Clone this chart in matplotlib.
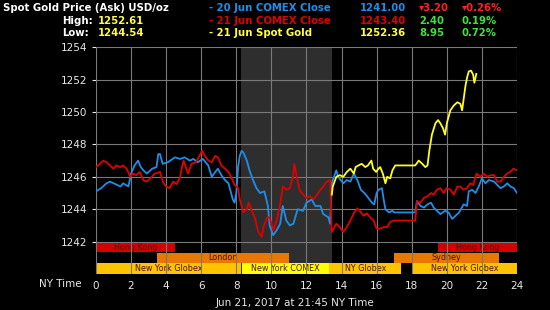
import matplotlib

matplotlib.use("Agg")
import matplotlib.pyplot as plt  # noqa: E402

# 20 Jun COMEX Close (blue)
blue_h = [0, 0.3, 0.6, 0.8, 1.2, 1.4, 1.55, 1.85, 2.0, 2.2, 2.4, 2.55, 2.7, 2.9, 3.2, 3.45,
          3.55, 3.65, 3.8, 4.1, 4.5, 4.8, 5.05, 5.35, 5.55, 5.8, 6.1, 6.4, 6.6, 6.8, 6.95,
          7.15, 7.35, 7.55, 7.7, 7.8, 7.9, 8.0, 8.1, 8.2, 8.3, 8.4, 8.6, 8.75, 8.95, 9.15,
          9.35, 9.6, 9.8, 9.9, 10.1, 10.3, 10.5, 10.65, 10.85, 11.05, 11.25, 11.5, 11.8,
          12.0, 12.3, 12.5, 12.8, 12.95, 13.25, 13.35, 13.45, 13.5, 13.7, 13.8, 14.1, 14.3,
          14.5, 14.7, 14.9, 15.1, 15.3, 15.45, 15.73, 15.86, 16.0, 16.1, 16.3, 16.4, 16.5,
          16.7, 16.9, 17.0, 18.2, 18.3, 18.5, 18.7, 18.9, 19.1, 19.25, 19.44, 19.63, 19.9,
          20.1, 20.3, 20.5, 20.7, 20.96, 21.15, 21.25, 21.44, 21.63, 21.82, 22.0, 22.2,
          22.4, 22.7, 22.87, 23.06, 23.25, 23.44, 23.63, 23.82, 24.0]
blue_v = [1245.1, 1245.3, 1245.6, 1245.7, 1245.5, 1245.4, 1245.6, 1245.4, 1246.2, 1246.7,
          1247.0, 1246.6, 1246.4, 1246.2, 1246.5, 1246.6, 1247.4, 1247.4, 1246.8, 1246.9,
          1247.2, 1247.1, 1247.2, 1247.0, 1247.1, 1246.9, 1247.1, 1246.7, 1246.0, 1246.3,
          1246.5, 1246.1, 1245.8, 1245.6, 1245.0, 1244.6, 1244.4, 1245.0, 1246.6, 1247.3,
          1247.6, 1247.5, 1247.0, 1246.4, 1245.8, 1245.3, 1245.0, 1245.1, 1244.2, 1243.0,
          1242.4, 1242.7, 1243.1, 1244.2, 1243.3, 1243.0, 1243.1, 1244.0, 1243.9, 1244.4,
          1244.6, 1244.2, 1244.2, 1243.7, 1243.5, 1243.1, 1245.6, 1245.8, 1246.4, 1246.0,
          1245.6, 1245.8, 1245.7, 1246.2, 1245.8, 1245.2, 1245.0, 1244.8, 1244.4, 1244.3,
          1245.0, 1245.2, 1245.3, 1244.6, 1244.0, 1243.8, 1243.9, 1243.8, 1243.8, 1244.5,
          1244.2, 1244.1, 1244.3, 1244.4, 1244.1, 1243.9, 1243.7, 1243.9, 1243.8, 1243.4,
          1243.6, 1243.8, 1244.3, 1244.2, 1245.1, 1245.2, 1245.0, 1245.4, 1245.9, 1245.6,
          1245.8, 1245.7, 1245.5, 1245.3, 1245.4, 1245.6, 1245.4, 1245.3, 1245.0]

# 21 Jun COMEX Close (red)
red_h = [0, 0.23, 0.42, 0.6, 0.8, 1.0, 1.15, 1.37, 1.55, 1.75, 1.95, 2.1, 2.3, 2.5, 2.7,
         2.9, 3.1, 3.35, 3.65, 3.85, 4.0, 4.2, 4.4, 4.6, 4.8, 4.9, 5.0, 5.15, 5.25, 5.45,
         5.7, 5.9, 6.05, 6.2, 6.4, 6.6, 6.8, 6.95, 7.15, 7.35, 7.55, 7.7, 7.9, 8.1, 8.2,
         8.4, 8.6, 8.7, 8.85, 9.05, 9.25, 9.45, 9.55, 9.75, 9.9, 10.1, 10.3, 10.5, 10.65,
         10.85, 11.05, 11.25, 11.3, 11.45, 11.6, 11.8, 12.0, 12.2, 12.4, 12.6, 12.8,
         12.96, 13.15, 13.35, 13.44, 13.5, 13.7, 13.9, 14.1, 14.3, 14.5, 14.7, 14.9, 15.0,
         15.25, 15.44, 15.63, 15.82, 16.0, 16.2, 16.4, 16.6, 16.77, 16.96, 18.2, 18.3,
         18.5, 18.7, 18.9, 19.1, 19.25, 19.44, 19.63, 19.82, 20.0, 20.2, 20.4, 20.6,
         20.77, 20.96, 21.15, 21.34, 21.5, 21.7, 21.9, 22.1, 22.3, 22.5, 22.7, 22.87,
         23.06, 23.25, 23.44, 23.6, 23.8, 24.0]
red_v = [1246.6, 1246.8, 1247.0, 1246.9, 1246.7, 1246.5, 1246.7, 1246.6, 1246.7, 1246.5,
         1246.0, 1246.2, 1246.1, 1246.3, 1245.8, 1245.7, 1245.9, 1246.2, 1246.3, 1245.6,
         1245.4, 1245.3, 1245.7, 1245.55, 1246.0, 1246.6, 1247.0, 1246.5, 1246.2, 1246.8,
         1246.9, 1247.3, 1247.6, 1247.3, 1247.0, 1246.9, 1247.3, 1247.2, 1246.7, 1246.5,
         1246.3, 1246.0, 1245.5, 1245.3, 1244.6, 1243.8, 1244.0, 1244.4, 1244.0, 1243.5,
         1242.6, 1242.3, 1242.9, 1243.5, 1243.5, 1242.7, 1243.3, 1244.3, 1245.4, 1245.2,
         1245.3, 1246.1, 1246.8, 1246.0, 1245.2, 1244.9, 1244.7, 1244.8, 1244.6, 1244.9,
         1245.2, 1245.4, 1245.7, 1245.8, 1242.6, 1242.7, 1243.1, 1242.9, 1242.6, 1242.9,
         1243.3, 1243.75, 1244.05, 1243.95, 1243.6, 1243.75, 1243.5, 1243.3, 1242.8,
         1242.8, 1242.9, 1242.9, 1243.2, 1243.3, 1243.3, 1244.5, 1244.4, 1244.7, 1244.8,
         1245.0, 1244.9, 1245.2, 1245.3, 1245.0, 1245.3, 1245.2, 1244.9, 1245.4, 1245.4,
         1245.2, 1245.3, 1245.6, 1245.5, 1246.2, 1246.0, 1246.2, 1246.0, 1246.1, 1246.1,
         1245.7, 1245.7, 1246.0, 1246.2, 1246.3, 1246.5, 1246.4]

# 21 Jun Spot Gold (yellow)
gold_h = [13.44, 13.5, 13.6, 13.7, 13.9, 14.1, 14.3, 14.5, 14.7, 14.8, 14.96, 15.15, 15.35,
          15.5, 15.7, 15.8, 15.97, 16.1, 16.2, 16.35, 16.5, 16.6, 16.77, 16.9, 17.06, 18.2,
          18.4, 18.6, 18.77, 18.9, 19.0, 19.15, 19.35, 19.5, 19.63, 19.78, 19.9, 20.0,
          20.2, 20.4, 20.6, 20.77, 20.87, 20.96, 21.06, 21.15, 21.25, 21.38, 21.5, 21.57,
          21.68]
gold_v = [1244.9, 1245.4, 1245.7, 1246.0, 1246.1, 1246.0, 1246.3, 1246.5, 1246.2, 1246.6,
          1246.7, 1246.8, 1246.6, 1246.7, 1247.0, 1246.5, 1246.3, 1246.5, 1246.6, 1246.2,
          1245.6, 1246.0, 1245.9, 1246.4, 1246.7, 1246.7, 1247.0, 1246.8, 1246.6, 1246.7,
          1247.6, 1248.6, 1249.3, 1249.5, 1249.3, 1249.0, 1248.6, 1249.3, 1250.1, 1250.4,
          1250.6, 1250.5, 1250.1, 1250.8, 1251.6, 1252.1, 1252.5, 1252.55, 1252.3, 1251.8,
          1252.35]

# trading sessions: (name, start hour, end hour, row, colour)
sessions = [
    ("Hong Kong", 0, 4.5, 2, "#d40000"),
    ("Hong Kong", 19.5, 24, 2, "#d40000"),
    ("London", 3.5, 11.0, 1, "#e87800"),
    ("Sydney", 17.0, 23.0, 1, "#e87800"),
    ("New York Globex", 0, 8.25, 0, "#ffc400"),
    ("New York COMEX", 8.33, 13.3, 0, "#ffff00"),
    ("NY Globex", 13.3, 17.4, 0, "#ffc400"),
    ("New York Globex", 18.0, 24, 0, "#ffc400"),
]
comex_open, comex_close = 8.25, 13.45

fig = plt.figure(figsize=(5.5, 3.1), dpi=100, facecolor="black")
ax = fig.add_axes([0.1745, 0.116, 0.7655, 0.732], facecolor="black")

ax.axvspan(comex_open, comex_close, color="#2e2e2e", zorder=0, lw=0)

row_h = 0.655
for name, s, e, row, col in sessions:
    y0 = 1240.03 + row * row_h
    ax.fill_between([s, e], y0, y0 + row_h - 0.02, color=col, lw=0, zorder=1)
    ax.text((s + e) / 2, y0 + row_h / 2 - 0.02, name, fontsize=5.8, color="#4a1000",
            ha="center", va="center", zorder=2)

for y in range(1242, 1256, 2):
    ax.axhline(y, color="#7a7a7a", lw=0.8, zorder=3)
for x in range(0, 26, 2):
    ax.axvline(x, color="#7a7a7a", lw=0.8, zorder=3)

ax.plot(blue_h, blue_v, color="#1e8ee8", lw=1.3, zorder=4)
ax.plot(red_h, red_v, color="#e00000", lw=1.3, zorder=5)
ax.plot(gold_h, gold_v, color="#ffff1a", lw=1.3, zorder=6)

ax.set_xlim(0, 24)
ax.set_ylim(1240.0, 1254)
ax.set_xticks(range(0, 26, 2))
ax.set_yticks(range(1242, 1256, 2))
ax.tick_params(colors="#e8e8e8", labelsize=7.5, length=3, width=0.8)
ax.tick_params(axis="x", length=0, pad=5)
for sp in ax.spines.values():
    sp.set_visible(False)

fig.text(0.07, 0.083, "NY Time", color="#e8e8e8", fontsize=7.5, ha="left", va="center")
fig.text(0.537, 0.022, "Jun 21, 2017 at 21:45 NY Time", color="#e8e8e8", fontsize=7.5,
         ha="center", va="center")

# header
hb = dict(fontsize=7.3, fontweight="bold", va="center")
fig.text(0.005, 0.973, "Spot Gold Price (Ask) USD/oz", color="white", ha="left", **hb)
fig.text(0.168, 0.932, "High:", color="white", ha="right", **hb)
fig.text(0.178, 0.932, "1252.61", color="#ffff40", ha="left", **hb)
fig.text(0.162, 0.893, "Low:", color="white", ha="right", **hb)
fig.text(0.178, 0.893, "1244.54", color="#ffff40", ha="left", **hb)

rows = [
    ("- 20 Jun COMEX Close", "1241.00", "\u25be3.20", "\u25be0.26%", "#1e8ee8", "#ff2020", 0.973),
    ("- 21 Jun COMEX Close", "1243.40", "2.40", "0.19%", "#e00000", "#40e040", 0.932),
    ("- 21 Jun Spot Gold", "1252.36", "8.95", "0.72%", "#ffff40", "#40e040", 0.893),
]
for label, price, chg, pct, col, ccol, y in rows:
    fig.text(0.38, y, label, color=col, ha="left", fontsize=7.3, fontweight="bold", va="center")
    fig.text(0.654, y, price, color=col, ha="left", fontsize=7.3, fontweight="bold", va="center")
    fig.text(0.762, y, chg, color=ccol, ha="left", fontsize=7.3, fontweight="bold", va="center")
    fig.text(0.84, y, pct, color=ccol, ha="left", fontsize=7.3, fontweight="bold", va="center")

fig.savefig("out.png", dpi=100, facecolor="black")
